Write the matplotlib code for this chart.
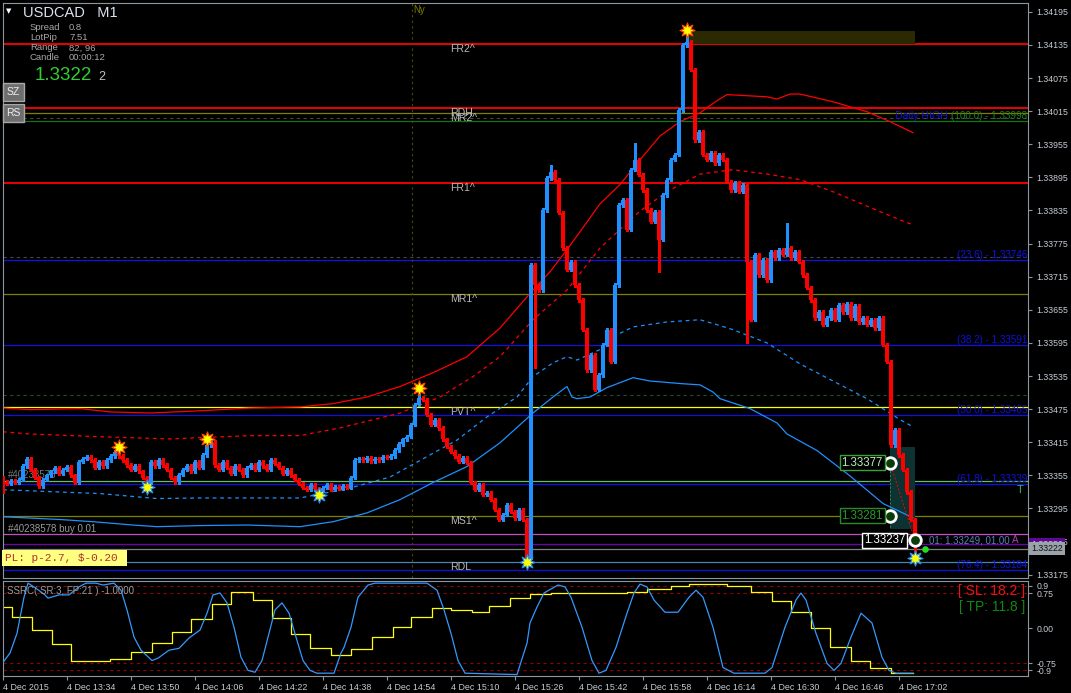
import numpy as np
import matplotlib.pyplot as plt
from matplotlib.patches import Rectangle

plt.rcParams['font.family'] = ['Liberation Sans', 'DejaVu Sans']

# ---- USDCAD M1, 1-minute bars from 13:18 ----
first_open = 1.33351
closes = [
    1.33343, 1.33340, 1.33345, 1.33342, 1.33347, 1.33372, 1.33385, 1.33365, 1.33351, 1.33336,
    1.33347, 1.33355, 1.33362, 1.33369, 1.33358, 1.33365, 1.33371, 1.33355, 1.33342, 1.33380,
    1.33385, 1.33389, 1.33383, 1.33369, 1.33380, 1.33372, 1.33383, 1.33390, 1.33398, 1.33390,
    1.33383, 1.33374, 1.33365, 1.33372, 1.33362, 1.33351, 1.33342, 1.33380, 1.33372, 1.33383,
    1.33374, 1.33365, 1.33351, 1.33343, 1.33356, 1.33365, 1.33372, 1.33362, 1.33380, 1.33369,
    1.33392, 1.33410, 1.33416, 1.33374, 1.33365, 1.33380, 1.33369, 1.33358, 1.33372, 1.33365,
    1.33355, 1.33369, 1.33374, 1.33365, 1.33380, 1.33372, 1.33365, 1.33383, 1.33376, 1.33369,
    1.33358, 1.33365, 1.33355, 1.33347, 1.33340, 1.33333, 1.33329, 1.33338, 1.33331, 1.33327,
    1.33333, 1.33338, 1.33329, 1.33334, 1.33331, 1.33336, 1.33333, 1.33351, 1.33383, 1.33385,
    1.33383, 1.33387, 1.33381, 1.33385, 1.33383, 1.33389, 1.33387, 1.33390, 1.33401, 1.33412,
    1.33420, 1.33425, 1.33447, 1.33483, 1.33496, 1.33492, 1.33465, 1.33447, 1.33456, 1.33441,
    1.33420, 1.33407, 1.33398, 1.33390, 1.33380, 1.33387, 1.33378, 1.33342, 1.33329, 1.33338,
    1.33320, 1.33323, 1.33311, 1.33293, 1.33275, 1.33284, 1.33302, 1.33289, 1.33278, 1.33293,
    1.33275, 1.33206, 1.33737, 1.33700, 1.33691, 1.33836, 1.33894, 1.33905, 1.33891, 1.33831,
    1.33767, 1.33728, 1.33742, 1.33700, 1.33673, 1.33619, 1.33546, 1.33574, 1.33510, 1.33537,
    1.33592, 1.33619, 1.33561, 1.33700, 1.33845, 1.33854, 1.33800, 1.33909, 1.33927, 1.33900,
    1.33872, 1.33836, 1.33815, 1.33833, 1.33782, 1.33863, 1.33891, 1.33927, 1.33936, 1.34017,
    1.34135, 1.34141, 1.34090, 1.33963, 1.33978, 1.33936, 1.33927, 1.33940, 1.33921, 1.33936,
    1.33927, 1.33887, 1.33872, 1.33885, 1.33869, 1.33882, 1.33742, 1.33637, 1.33755, 1.33718,
    1.33746, 1.33709, 1.33760, 1.33749, 1.33764, 1.33755, 1.33767, 1.33749, 1.33760, 1.33742,
    1.33718, 1.33695, 1.33673, 1.33640, 1.33651, 1.33628, 1.33640, 1.33655, 1.33637, 1.33664,
    1.33651, 1.33666, 1.33640, 1.33662, 1.33633, 1.33640, 1.33628, 1.33637, 1.33622, 1.33640,
    1.33592, 1.33561, 1.33410, 1.33438, 1.33392, 1.33365, 1.33325, 1.33275, 1.33237,
]
high_marks = {29: 1.33407, 51: 1.33420, 104: 1.33514, 137: 1.33918, 158: 1.33958,
              171: 1.34162, 196: 1.33813}
low_marks = {0: 1.33323, 36: 1.33334, 79: 1.33320, 131: 1.33198, 133: 1.33550,
             164: 1.33724, 186: 1.33595, 228: 1.33206}

peak_bars = [29, 51, 104, 171]
peak_prices = [1.33407, 1.33420, 1.33514, 1.34162]
trough_bars = [36, 79, 131, 228]
trough_prices = [1.33334, 1.33320, 1.33198, 1.33206]

time_labels = ['4 Dec 2015', '4 Dec 13:34', '4 Dec 13:50', '4 Dec 14:06', '4 Dec 14:22',
               '4 Dec 14:38', '4 Dec 14:54', '4 Dec 15:10', '4 Dec 15:26', '4 Dec 15:42',
               '4 Dec 15:58', '4 Dec 16:14', '4 Dec 16:30', '4 Dec 16:46', '4 Dec 17:02']
price_ticks = [1.34195, 1.34135, 1.34075, 1.34015, 1.33955, 1.33895, 1.33835, 1.33775,
               1.33715, 1.33655, 1.33595, 1.33535, 1.33475, 1.33415, 1.33355, 1.33295,
               1.33235, 1.33175]

# pivot levels
pivot_names = ['FR2^', 'RDH', 'MR2^', 'FR1^', 'MR1^', 'PVT^', 'MS1^', 'RDL']
pivot_prices = [1.34137, 1.34021, 1.34012, 1.33885, 1.33684, 1.33479, 1.33281, 1.33198]
pivot_colors = ['#ff0000', '#ff0000', '#808000', '#ff0000', '#808000', '#ffff00', '#808000', '#4682b4']

# daily fibonacci
fib_names = ['(100.0)', '(23.6)', '(38.2)', '(50.0)', '(61.8)', '(76.4)']
fib_prices = [1.33998, 1.33746, 1.33591, 1.33465, 1.33339, 1.33184]

# envelope curves (bar, price)
upper_x = [0, 6.75, 19.25, 26.75, 36.75, 49.25, 61.75, 74.25, 82.5, 91, 99.25, 107.5, 116,
           124.25, 132.5, 136.75, 141, 145, 149.25, 154.25, 159.25, 164.25, 169.25, 174.25,
           178.5, 181, 191, 193.5, 196.75, 199.25, 207.5, 216, 221.75, 227.5]
upper_y = [1.33477, 1.33474, 1.33476, 1.33470, 1.33468, 1.33472, 1.33477, 1.33479, 1.33485,
           1.33497, 1.33516, 1.33541, 1.33570, 1.33622, 1.33691, 1.33724, 1.33764, 1.33804,
           1.33847, 1.33882, 1.33927, 1.33970, 1.33996, 1.34012, 1.34034, 1.34045, 1.34041,
           1.34037, 1.34046, 1.34046, 1.34032, 1.34014, 1.33996, 1.33976]
upmid_x = [0, 6.75, 24.25, 41.75, 61.75, 74.25, 84.25, 99.25, 109.25, 117.5, 124.25, 132.5,
           141, 149.25, 159.25, 166, 174.25, 182.5, 191, 199.25, 207.5, 216, 224.25, 227.5]
upmid_y = [1.33434, 1.33430, 1.33425, 1.33421, 1.33427, 1.33427, 1.33441, 1.33468, 1.33497,
           1.33534, 1.33570, 1.33637, 1.33691, 1.33767, 1.33834, 1.33869, 1.33901, 1.33909,
           1.33901, 1.33891, 1.33869, 1.33843, 1.33818, 1.33809]
lowmid_x = [0, 13.5, 24.25, 38.5, 49.25, 61, 74.25, 86.75, 96.75, 106, 113.5, 121, 128.5,
            132.5, 137.5, 141, 143.5, 149.25, 153, 157.5, 166, 174.25, 178.5, 182.5, 191,
            199.25, 207.5, 216, 224.25, 227.5]
lowmid_y = [1.33329, 1.33325, 1.33322, 1.33313, 1.33314, 1.33314, 1.33314, 1.33332, 1.33352,
            1.33389, 1.33419, 1.33461, 1.33497, 1.33534, 1.33559, 1.33570, 1.33564, 1.33583,
            1.33608, 1.33624, 1.33633, 1.33637, 1.33628, 1.33619, 1.33595, 1.33557, 1.33526,
            1.33494, 1.33456, 1.33443]
lower_x = [0, 14.25, 22.5, 32.5, 38.5, 49.25, 61, 74.25, 82.5, 91, 99.25, 107.5, 116, 124.25,
           132.5, 137.5, 141, 142.25, 143.5, 146.75, 151, 154.25, 157.5, 161.75, 170, 174.25,
           177.5, 179.25, 186.75, 193.5, 196, 203.5, 211.75, 220, 227.5]
lower_y = [1.33280, 1.33275, 1.33271, 1.33265, 1.33262, 1.33264, 1.33265, 1.33262, 1.33271,
           1.33287, 1.33311, 1.33342, 1.33371, 1.33414, 1.33468, 1.33497, 1.33516, 1.33497,
           1.33494, 1.33497, 1.33514, 1.33523, 1.33532, 1.33526, 1.33521, 1.33519, 1.33506,
           1.33494, 1.33476, 1.33450, 1.33430, 1.33400, 1.33354, 1.33304, 1.33278]

# SSRC oscillator
osc_x = [0, 1.75, 3.5, 5.25, 6.25, 7.75, 10.5, 11.25, 14, 16.5, 19, 20.75, 23.25, 25, 27.75,
         29.5, 31, 32.75, 34.5, 37.25, 38.75, 41.5, 44, 46.5, 49.25, 51, 52.5, 54.25, 56,
         57.75, 59.5, 61.25, 63, 64.75, 66.5, 68, 69.75, 71.5, 73.25, 75, 76.75, 78.5, 82.75,
         84.5, 85.25, 87, 88.75, 91.25, 93, 106, 108.5, 110.25, 112, 113.75, 115.5, 128.5,
         131, 131.75, 133.5, 135.25, 138.75, 140.5, 142, 144.75, 147.25, 149, 150.75, 153.25,
         156, 157.75, 159.25, 161, 162.75, 165.5, 168.75, 171.5, 173.25, 175, 177.5, 180,
         182.75, 190.5, 192.25, 195.5, 198.25, 199.5, 200.75, 203.25, 206, 207.75, 209.5,
         212, 214.5, 217.25, 219.75, 221.5, 223.25, 227.5]
osc_y = [-0.73, -0.53, -0.11, 0.66, 0.96, 0.88, 0.71, 0.64, 0.71, 0.71, 0.88, 0.96, 0.96,
         0.92, 0.96, 0.81, 0.39, -0.19, -0.47, -0.69, -0.64, -0.47, -0.43, -0.21, -0.04, 0.32,
         0.71, 0.75, 0.54, 0.02, -0.62, -0.90, -0.94, -0.69, -0.11, 0.39, 0.54, 0.32, -0.19,
         -0.69, -0.90, -0.96, -0.96, -0.53, -0.41, 0.02, 0.66, 0.92, 0.96, 0.96, 0.81, 0.39,
         -0.11, -0.69, -0.96, -0.99, -0.32, 0.11, 0.45, 0.75, 0.92, 0.88, 0.66, 0.02, -0.69,
         -0.96, -0.90, -0.41, 0.32, 0.75, 0.94, 0.88, 0.60, 0.34, 0.34, 0.66, 0.81, 0.66, 0.02,
         -0.84, -0.96, -0.96, -0.84, 0.02, 0.60, 0.75, 0.60, -0.11, -0.75, -0.90, -0.75, -0.19,
         0.32, 0.11, -0.62, -0.90, -0.96, -0.96]
step_x = [0, 2.25, 7.25, 12.25, 17, 22.5, 26.75, 32, 37.25, 42.25, 47, 52.25, 57, 62.5, 67.25,
          72, 76.75, 82, 87, 92.25, 97.5, 102, 107.25, 112, 117.25, 121.5, 126.75, 131.75, 137,
          156, 161, 167, 171.5, 181, 187, 192.25, 197, 202, 206.75, 212, 216.75, 222, 227.5]
step_y = [0.45, 0.24, -0.04, -0.34, -0.69, -0.71, -0.66, -0.51, -0.32, -0.09, 0.19, 0.51, 0.77,
          0.60, 0.21, -0.13, -0.43, -0.58, -0.45, -0.19, 0.02, 0.24, 0.43, 0.39, 0.34, 0.47,
          0.64, 0.73, 0.75, 0.77, 0.83, 0.90, 0.94, 0.90, 0.77, 0.58, 0.34, 0.00, -0.41, -0.69,
          -0.86, -0.96, -0.96]

BLUE = '#1e90ff'
RED = '#ff0000'
TXT = '#c4ccd4'
FRAME = '#8c96a0'

fig = plt.figure(figsize=(10.71, 6.93), dpi=100, facecolor='black')
ax = fig.add_axes([3 / 1071, 115 / 693, 1025 / 1071, 575 / 693], facecolor='black')
ax2 = fig.add_axes([3 / 1071, 17 / 693, 1025 / 1071, 95 / 693], facecolor='black')


def ui(px, py):
    # pixel position inside the chart window -> axes fraction
    return ((px - 3) / 1025, (578 - py) / 575)


for a in (ax, ax2):
    a.set_xlim(0, 256.25)
    for s in a.spines.values():
        s.set_color(FRAME)
        s.set_linewidth(0.8)

ax.set_ylim(1.33169, 1.34211)
ax2.set_ylim(-1.02, 1.006)

# ---- horizontal levels ----
for p, c in zip(pivot_prices, pivot_colors):
    ax.axhline(p, color=c, lw=1.3 if c == RED else 0.9, zorder=1)
for name, p in zip(fib_names, fib_prices):
    ax.axhline(p, color='#117711' if name == '(100.0)' else '#1010e0', lw=0.9, zorder=1)
for p in (1.34003, 1.33751):
    ax.axhline(p, color='#454545', lw=0.8, ls=(0, (3, 3)), zorder=1)
ax.axhline(1.33501, color='#1f4f1f', lw=0.8, ls=(0, (3, 3)), zorder=1)
ax.axhline(1.33345, color='#66bb66', lw=0.9, zorder=1)      # TP
ax.axhline(1.33249, color='#c050c0', lw=0.9, zorder=1)      # order
ax.axhline(1.33230, color='#7000b0', lw=0.9, zorder=1)      # ask
ax.axhline(1.33222, color='#808080', lw=0.9, zorder=1)      # bid
ax.axvline(102.25, color='#4d4d00', lw=0.8, ls=(0, (2, 3)), zorder=1)

ax.add_patch(Rectangle((171, 1.34137), 57, 0.00024, facecolor='#2b2900', lw=0, zorder=1))
ax.add_patch(Rectangle((221.75, 1.33257), 6.25, 0.0015, facecolor='#0d3232', lw=0, zorder=1))

# ---- envelope curves ----
ax.plot(upper_x, upper_y, color=RED, lw=0.9, zorder=2)
ax.plot(upmid_x, upmid_y, color=RED, lw=0.9, ls=(0, (3, 3)), zorder=2)
ax.plot(lowmid_x, lowmid_y, color=BLUE, lw=0.9, ls=(0, (3, 3)), zorder=2)
ax.plot(lower_x, lower_y, color=BLUE, lw=0.9, zorder=2)

# ---- candles ----
c = np.array(closes)
o = np.concatenate([[first_open], c[:-1]])
idx = np.arange(len(c))
col = np.where(c >= o, BLUE, RED)
hi = np.maximum(o, c) + 0.00003
lo = np.minimum(o, c) - 0.00003
for b, p in high_marks.items():
    hi[b] = p
for b, p in low_marks.items():
    lo[b] = p
ax.vlines(idx, lo, hi, colors=col, lw=0.75, zorder=4, antialiased=False)
ax.bar(idx, np.maximum(np.abs(c - o), 0.000015), bottom=np.minimum(o, c), width=0.8,
       color=col, lw=0, zorder=4, antialiased=False)

# fractal stars
ax.scatter(peak_bars, peak_prices, marker=(8, 1, 0), s=120, c='#ffff00',
           edgecolors='#ff4500', linewidths=0.8, zorder=6)
ax.scatter(trough_bars, trough_prices, marker=(8, 1, 0), s=120, c='#ffff00',
           edgecolors='#1e90ff', linewidths=0.8, zorder=6)

# trade markers
ax.plot([221.75, 228], [1.33378, 1.33237], color=RED, lw=0.7, ls=(0, (2, 2)), zorder=5)
ax.plot([221.75, 221.75], [1.33378, 1.33257], color='#2e8b57', lw=0.7, ls=(0, (2, 2)), zorder=5)
ax.scatter([221.75, 221.75, 228], [1.33378, 1.33282, 1.33237], s=70, c='#0b3d0b',
           edgecolors='white', linewidths=2, zorder=7)
ax.scatter([230.5], [1.33222], s=14, c='#22dd22', zorder=7)
ax.text(220, 1.33378, '1.33377', color='#b8f0b8', fontsize=8.3, ha='right', va='center',
        zorder=7, bbox=dict(boxstyle='square,pad=0.15', fc='black', ec='#3aa03a', lw=1))
ax.text(220, 1.33282, '1.33281', color='#2a9a2a', fontsize=8.3, ha='right', va='center',
        zorder=7, bbox=dict(boxstyle='square,pad=0.15', fc='black', ec='#2a8a2a', lw=1))
ax.text(225.6, 1.33237, '1.33237', color='white', fontsize=8.3, ha='right', va='center',
        zorder=7, bbox=dict(boxstyle='square,pad=0.15', fc='black', ec='white', lw=1))
ax.text(231.5, 1.33237, '01: 1.33249, 01.00', color='#5a7fb8', fontsize=7, va='center', zorder=7)
ax.text(252.3, 1.33237, 'A', color='#b040b0', fontsize=7, va='center', zorder=7)
ax.text(253.5, 1.33328, 'T', color='#33bb55', fontsize=8, va='center', zorder=7)

# level labels
for name, p in zip(pivot_names, pivot_prices):
    ax.text(111.75, p, name, color='#b8b8b8', fontsize=7.6, va='top', zorder=3)
ax.text(102.6, 1.34199, 'Ny', color='#808000', fontsize=7, va='center', zorder=3)
for name, p in zip(fib_names, fib_prices):
    colr = '#1f7f1f' if name == '(100.0)' else '#1010e0'
    ax.text(256, p, f'{name} - {p:.5f}', color=colr, fontsize=7.1, ha='right', va='bottom', zorder=3)
ax.text(236.2, fib_prices[0], 'Daily HIGH', color='#1010e0', fontsize=7.6, ha='right',
        va='bottom', zorder=3)
ax.text(1.25, 1.33249, '#40238578 buy 0.01', color='#9a9a9a', fontsize=7, va='bottom', zorder=3)
ax.text(1.25, 1.33355, '#40238578', color='#777777', fontsize=7, va='center', zorder=3)

# chart window overlays
ax.text(*ui(6, 11), '\u25bc', transform=ax.transAxes, color='white', fontsize=5, va='center',
        family='DejaVu Sans')
ax.text(*ui(23, 13), 'USDCAD   M1', transform=ax.transAxes, color='#d8e4f0', fontsize=10.5,
        va='center')
for row, (k, v) in enumerate([('Spread', '0.8'), ('LotPip', '7.51'), ('Range', '82, 96'),
                              ('Candle', '00:00:12')]):
    ax.text(*ui(30, 28 + 10 * row), k, transform=ax.transAxes, color='#a8a8a8', fontsize=6.8,
            va='center')
    ax.text(*ui(69, 28 + 10 * row), v, transform=ax.transAxes, color='#a8a8a8', fontsize=6.8,
            va='center')
ax.text(*ui(35, 75), '1.3322', transform=ax.transAxes, color='#32cd32', fontsize=13.5, va='center')
ax.text(*ui(98, 77), '2', transform=ax.transAxes, color='#c0c0c0', fontsize=9, va='center')
for label, py in (('SZ', 92), ('RS', 113)):
    ax.text(*ui(13.5, py), label, transform=ax.transAxes, color='#eeeeee', fontsize=7.5,
            ha='center', va='center', zorder=8,
            bbox=dict(boxstyle='square,pad=0.35', fc='#6e6e6e', ec='#a8a8a8', lw=1))
ax.text(*ui(5, 558), 'PL: p-2.7, $-0.20 ', transform=ax.transAxes, color='#b03030', fontsize=8,
        family='Liberation Mono', va='center', zorder=8,
        bbox=dict(boxstyle='square,pad=0.25', fc='#ffff80', ec='none'))

# price axis
ax.set_xticks([])
ax.yaxis.tick_right()
ax.set_yticks(price_ticks)
ax.set_yticklabels([f'{p:.5f}' for p in price_ticks])
ax.tick_params(axis='y', direction='out', length=3, color=FRAME, labelcolor=TXT,
               labelsize=6.3, pad=3)
yt = ax.get_yaxis_transform()
ax.text(1.003, 1.33230, '1.33230', transform=yt, color='#d0d0d0', fontsize=6.3, va='center',
        clip_on=False, bbox=dict(boxstyle='square,pad=0.25', fc='#5c0a96', ec='none'))
ax.text(1.003, 1.33222, '1.33222', transform=yt, color='#101010', fontsize=6.3, va='center',
        clip_on=False, bbox=dict(boxstyle='square,pad=0.25', fc='#9aa2aa', ec='none'))

# ---- oscillator panel ----
for lvl in (0.9, 0.75, -0.75, -0.9):
    ax2.axhline(lvl, color='#8b0000', lw=0.8, ls=(0, (3, 3)), zorder=1)
ax2.plot(osc_x, osc_y, color='#3399ff', lw=0.9, zorder=3)
ax2.step(step_x, step_y, where='post', color='#ffff00', lw=0.9, zorder=2)
ax2.text(1, 0.79, 'SSRC( SR:3, FP:21 ) -1.0000', color='#9a9a9a', fontsize=7, va='center', zorder=4)
ax2.text(255.5, 0.79, '[ SL: 18.2 ]', color='#ee1111', fontsize=10, ha='right', va='center', zorder=4)
ax2.text(255.5, 0.45, '[ TP: 11.8 ]', color='#118811', fontsize=10, ha='right', va='center', zorder=4)

ax2.yaxis.tick_right()
ax2.set_yticks([0.9, 0.75, 0.0, -0.75, -0.9])
ax2.set_yticklabels(['0.9', '0.75', '0.00', '-0.75', '-0.9'])
ax2.tick_params(axis='y', direction='out', length=3, color=FRAME, labelcolor=TXT,
                labelsize=6.3, pad=3)
ax2.set_xticks(np.arange(len(time_labels)) * 16)
ax2.set_xticklabels(time_labels)
ax2.tick_params(axis='x', direction='out', length=3, color=FRAME, labelcolor=TXT,
                labelsize=6.4, pad=2)
for lbl in ax2.get_xticklabels():
    lbl.set_ha('left')

fig.savefig('out.png', dpi=100, facecolor='black')
